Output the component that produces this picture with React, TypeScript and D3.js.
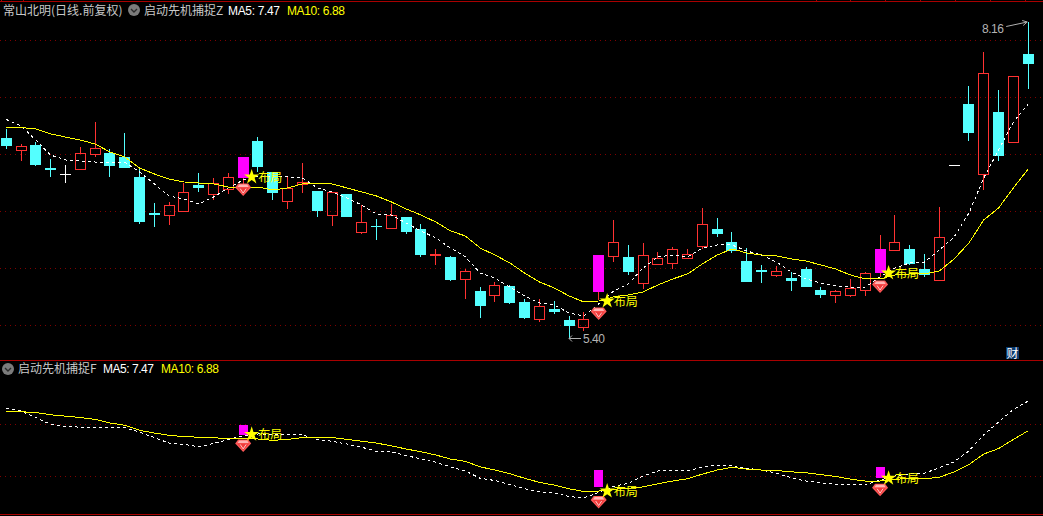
import React from "react";
import * as d3 from "d3";

// Candle prices
const opens = [7.149,7.047,7.088,6.887,6.837,6.878,7.009,7.018,6.983,6.809,6.495,6.477,6.512,6.739,6.660,6.704,6.800,7.122,6.852,6.599,6.748,6.686,6.477,6.660,6.329,6.381,6.364,6.460,6.355,6.124,6.111,5.919,5.814,5.780,5.858,5.719,5.570,5.658,5.562,5.501,5.806,6.120,6.111,5.884,6.050,6.059,6.102,6.207,6.355,6.242,6.076,5.998,5.954,5.928,6.006,5.823,5.780,5.780,5.823,5.971,6.172,6.181,6.006,5.910,6.913,7.445,6.835,7.375,7.114,7.881];
const highs = [7.227,7.094,7.114,6.966,6.913,7.070,7.288,7.053,7.192,6.878,6.582,6.591,6.756,6.843,6.800,6.843,6.983,7.157,6.852,6.809,6.931,6.686,6.678,6.660,6.564,6.442,6.573,6.460,6.399,6.181,6.120,6.006,5.849,5.893,5.867,5.745,5.745,5.727,5.596,5.631,6.128,6.434,6.216,6.233,6.155,6.198,6.181,6.538,6.451,6.329,6.189,6.041,6.032,5.980,6.024,5.849,5.823,5.919,5.980,6.303,6.477,6.216,6.137,6.547,6.913,7.602,7.899,7.567,7.689,8.160];
const lows = [7.053,6.948,6.904,6.809,6.756,6.878,6.983,6.809,6.887,6.399,6.373,6.390,6.512,6.678,6.608,6.660,6.739,6.852,6.608,6.530,6.669,6.460,6.381,6.460,6.312,6.259,6.355,6.312,6.111,6.041,5.902,5.745,5.579,5.719,5.701,5.570,5.544,5.614,5.400,5.466,5.736,6.067,5.954,5.832,6.050,6.006,6.102,6.181,6.285,6.146,5.893,5.884,5.937,5.814,5.849,5.753,5.710,5.762,5.771,5.937,6.172,6.041,5.937,5.910,6.913,7.122,6.695,6.948,7.114,7.576];
const closes = [7.079,7.076,6.913,6.870,6.837,7.018,7.061,6.904,6.887,6.416,6.477,6.564,6.678,6.713,6.756,6.809,6.983,6.896,6.669,6.713,6.765,6.512,6.678,6.460,6.416,6.373,6.477,6.329,6.128,6.133,5.910,5.989,5.684,5.867,5.710,5.579,5.684,5.631,5.509,5.570,6.128,6.242,5.980,6.128,6.102,6.181,6.137,6.399,6.312,6.163,5.893,5.980,5.989,5.902,5.849,5.780,5.814,5.841,5.971,6.181,6.242,6.050,5.954,6.285,6.913,7.192,7.715,6.992,7.689,7.794];
// Moving averages
const ma5 = [7.310,7.253,7.131,7.000,6.957,6.948,6.939,6.939,6.939,6.852,6.748,6.643,6.617,6.573,6.634,6.713,6.782,6.817,6.809,6.809,6.800,6.713,6.678,6.625,6.564,6.486,6.477,6.407,6.338,6.277,6.189,6.111,5.971,5.928,5.849,5.771,5.710,5.692,5.623,5.596,5.701,5.814,5.876,6.015,6.111,6.128,6.111,6.189,6.216,6.216,6.163,6.128,6.067,5.980,5.919,5.884,5.858,5.849,5.849,5.937,6.015,6.059,6.067,6.172,6.285,6.495,6.800,7.044,7.288,7.445];
const ma10 = [7.242,7.240,7.227,7.184,7.157,7.131,7.096,7.027,6.983,6.887,6.835,6.791,6.765,6.756,6.748,6.721,6.721,6.721,6.695,6.713,6.748,6.748,6.748,6.713,6.678,6.643,6.591,6.530,6.477,6.416,6.338,6.294,6.189,6.128,6.059,5.971,5.893,5.841,5.771,5.719,5.727,5.762,5.780,5.806,5.867,5.919,5.963,6.050,6.128,6.181,6.146,6.128,6.120,6.094,6.076,6.041,6.006,5.954,5.919,5.919,5.954,5.963,5.963,5.989,6.094,6.233,6.434,6.538,6.713,6.878];
// Signals (index into the candle arrays) and the star level of each
const signalIdx = [16, 40, 59];
const signalStar = [6.809, 5.727, 5.971];
// Grid levels
const mainGrid = [8.0, 7.503, 7.005, 6.508, 6.011, 5.514];
const subGrid = [7.005, 6.011];

const titleMain = "常山北明(日线.前复权)";
const indicatorZ = "启动先机捕捉Z";
const indicatorF = "启动先机捕捉F";
const ma5Label = "MA5: 7.47";
const ma10Label = "MA10: 6.88";
const signalText = "布局";
const highLabel = "8.16";
const lowLabel = "5.40";
const topTicks = [1, 23, 816, 850, 885, 920, 955, 990, 1025];

const W = 1043, H = 516;
const RED = "#ff3232", CYAN = "#54ffff", MAG = "#ff00ff", YEL = "#ffff00", LINE = "#a80000";
const CJK = "'Noto Sans CJK SC','Noto Sans',sans-serif";
const NUM = "'Liberation Sans',Arial,sans-serif";

const x = d3.scaleLinear().domain([0, 69]).range([6.2, 1028.2]);
const yMain = d3.scaleLinear().domain([5.4, 8.16]).range([338.5, 22]);
const ySub = d3.scaleLinear().domain([5.4, 8.16]).range([508.2, 363.6]);

const star = d3.symbol(d3.symbolStar, 72)()!;

function Gem({ cx, cy }: { cx: number; cy: number }) {
  const p = (pts: number[][]) => pts.map(([a, b]) => `${cx + a},${cy + b}`).join(" ");
  return (
    <g>
      <polygon points={p([[-5, -6], [5, -6], [8, -2], [0, 6.5], [-8, -2]])} fill="#ff5a5a" />
      <polygon points={p([[-6, -2], [6, -2], [0, 5]])} fill="#f03c3c" />
      <polygon points={p([[-4, -5], [4, -5], [5.5, -2.5], [-5.5, -2.5]])} fill="#ffb4b4" />
      <polyline points={p([[-3, -1], [0, 3.5], [3, -1]])} fill="none" stroke="#ffc8c8" strokeWidth={1} />
    </g>
  );
}

function Button({ cx, cy }: { cx: number; cy: number }) {
  return (
    <g>
      <circle cx={cx} cy={cy} r={6} fill="#7b7b7b" />
      <polyline points={`${cx - 3},${cy - 1} ${cx},${cy + 2} ${cx + 3},${cy - 1}`} fill="none" stroke="#2a2a2a" strokeWidth={1.4} />
    </g>
  );
}

function Sig({ scale, gemOffset }: { scale: d3.ScaleLinear<number, number>; gemOffset: number }) {
  return (
    <g>
      {signalIdx.map((idx, k) => {
        const cx = x(idx);
        return (
          <g key={idx}>
            <Gem cx={cx} cy={scale(ma5[idx]) + gemOffset} />
            <path d={star} fill={YEL} transform={`translate(${cx + 8.5},${scale(signalStar[k])})`} />
            <text x={cx + 15} y={scale(signalStar[k]) + 5} fontFamily={CJK} fontSize={12} fill={YEL}>{signalText}</text>
          </g>
        );
      })}
    </g>
  );
}

export default function App() {
  document.body.style.margin = "0";
  document.body.style.background = "#000";
  const lineOf = (scale: d3.ScaleLinear<number, number>) =>
    d3.line<number>().x((_, i) => x(i)).y((d) => scale(d));
  return (
    <svg width={W} height={H} style={{ position: "fixed", left: 0, top: 0, background: "#000", display: "block" }}>
      {/* frame */}
      <g shapeRendering="crispEdges" stroke={LINE}>
        <line x1={0} x2={W} y1={1.5} y2={1.5} strokeWidth={1} />
        {topTicks.map((t) => <line key={t} x1={t + 0.5} x2={t + 0.5} y1={0} y2={2} />)}
        <line x1={0} x2={W} y1={360.5} y2={360.5} />
        <line x1={0} x2={W} y1={514.5} y2={514.5} />
      </g>
      {/* grid */}
      <g shapeRendering="crispEdges" stroke="#800000" strokeDasharray="1 4">
        {mainGrid.map((g) => <line key={g} x1={0} x2={W} y1={Math.round(yMain(g)) + 0.5} y2={Math.round(yMain(g)) + 0.5} />)}
        {subGrid.map((g) => <line key={g} x1={0} x2={W} y1={Math.round(ySub(g)) + 0.5} y2={Math.round(ySub(g)) + 0.5} />)}
      </g>
      {/* candles */}
      <g shapeRendering="crispEdges">
        {opens.map((o, i) => {
          const c = closes[i];
          const cx = Math.floor(x(i));
          const isMag = signalIdx.includes(i);
          const doji = o === c;
          const up = c > o;
          const color = isMag ? MAG : doji && (i === 4 || i === 64) ? "#ffffff" : up ? RED : CYAN;
          const top = Math.round(yMain(Math.max(o, c)));
          const bot = Math.round(yMain(Math.min(o, c)));
          const hi = Math.round(yMain(highs[i]));
          const lo = Math.round(yMain(lows[i]));
          const wick = isMag ? RED : color;
          const hollow = up && !isMag && !doji;
          return (
            <g key={i}>
              <rect x={cx} width={1} y={hi} height={Math.max(0, top - hi)} fill={wick} />
              <rect x={cx} width={1} y={bot} height={Math.max(0, lo - bot)} fill={wick} />
              {doji && <rect x={cx - 5} width={11} y={top} height={1} fill={color} />}
              {hollow && (
                <g fill={color}>
                  <rect x={cx - 5} width={11} y={top} height={1} />
                  <rect x={cx - 5} width={11} y={bot} height={1} />
                  <rect x={cx - 5} width={1} y={top} height={bot - top + 1} />
                  <rect x={cx + 5} width={1} y={top} height={bot - top + 1} />
                </g>
              )}
              {!doji && !hollow && <rect x={cx - 5} y={top} width={11} height={bot - top} fill={color} />}
            </g>
          );
        })}
      </g>
      {/* MA lines, main */}
      <path d={lineOf(yMain)(ma5)!} fill="none" stroke="#fff" strokeDasharray="3 3" shapeRendering="crispEdges" />
      <path d={lineOf(yMain)(ma10)!} fill="none" stroke={YEL} shapeRendering="crispEdges" />
      <Sig scale={yMain} gemOffset={9.6} />
      {/* hi / lo marks */}
      <g stroke="#b0b0b0" fill="none">
        <line x1={x(69) - 22} y1={yMain(highs[69]) + 4.5} x2={x(69) - 1} y2={yMain(highs[69])} />
        <polyline points={`${x(69) - 6},${yMain(highs[69]) - 1.5} ${x(69) - 1},${yMain(highs[69])} ${x(69) - 5},${yMain(highs[69]) + 3.5}`} />
        <line x1={x(38)} y1={yMain(lows[38])} x2={x(38) + 12} y2={yMain(lows[38])} />
        <polyline points={`${x(38) + 3},${yMain(lows[38]) - 3} ${x(38)},${yMain(lows[38])} ${x(38) + 3},${yMain(lows[38]) + 3}`} />
      </g>
      <text x={982} y={33} fontFamily={NUM} fontSize={12} textLength={22} fill="#b4b4b4">{highLabel}</text>
      <text x={583} y={343} fontFamily={NUM} fontSize={12} textLength={22} fill="#b4b4b4">{lowLabel}</text>
      {/* sub panel */}
      <g shapeRendering="crispEdges">
        {signalIdx.map((idx) => (
          <rect key={idx} x={Math.floor(x(idx)) - 4} width={9} y={ySub(Math.max(opens[idx], closes[idx]))} height={ySub(Math.min(opens[idx], closes[idx])) - ySub(Math.max(opens[idx], closes[idx]))} fill={MAG} />
        ))}
      </g>
      <path d={lineOf(ySub)(ma5)!} fill="none" stroke="#fff" strokeDasharray="3 3" shapeRendering="crispEdges" />
      <path d={lineOf(ySub)(ma10)!} fill="none" stroke={YEL} shapeRendering="crispEdges" />
      <Sig scale={ySub} gemOffset={9.6} />
      {/* legends */}
      <text x={3} y={15} fontFamily={CJK} fontSize={12} fill="#c8c8c8">{titleMain}</text>
      <Button cx={134} cy={10} />
      <text x={144} y={15} fontFamily={CJK} fontSize={12} fill="#c8c8c8">{indicatorZ}</text>
      <text x={228} y={15} fontFamily={NUM} fontSize={12} textLength={52} fill="#fff">{ma5Label}</text>
      <text x={287} y={15} fontFamily={NUM} fontSize={12} textLength={58} fill={YEL}>{ma10Label}</text>
      <Button cx={8} cy={369} />
      <text x={18} y={373} fontFamily={CJK} fontSize={12} fill="#c8c8c8">{indicatorF}</text>
      <text x={103} y={373} fontFamily={NUM} fontSize={12} textLength={51} fill="#fff">{ma5Label}</text>
      <text x={161} y={373} fontFamily={NUM} fontSize={12} textLength={58} fill={YEL}>{ma10Label}</text>
      {/* badge */}
      <rect x={1006} y={347} width={13} height={12} fill="#0a3a6e" shapeRendering="crispEdges" />
      <text x={1006.5} y={357.5} fontFamily={CJK} fontSize={12} fill="#fff">财</text>
    </svg>
  );
}
